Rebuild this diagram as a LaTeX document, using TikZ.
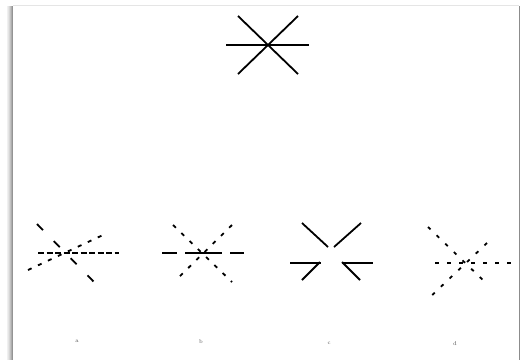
\documentclass[tikz,border=0pt]{standalone}
\begin{document}
\begin{tikzpicture}[x=1pt,y=-1pt,
  stroke/.style={line width=1.8pt,black},
  lbl/.style={font=\fontsize{5.5}{6}\selectfont,text=black!70,inner sep=0pt}]
\useasboundingbox (0,0) rectangle (525,360);
\fill[white] (0,0) rectangle (525,360);
% page shadow
\foreach \x/\c in {7/6,8/10,9/16,10/24,11/32,12/42}{\draw[black!\c,line width=1pt] (\x,6) -- (\x,360);}
\draw[black!10,line width=1pt] (13,5) -- (519,5);
\draw[black!45,line width=1pt] (519.5,6) -- (519.5,360);
% top star
\draw[stroke] (226,45) -- (309,45);
\draw[stroke] (238,16) -- (298,74);
\draw[stroke] (298,16) -- (238,74);
% a
\draw[stroke,dash pattern=on 6pt off 2.5pt] (38,253) -- (119,253);
\draw[stroke,dash pattern=on 8.5pt off 15.5pt] (37,224) -- (94,282);
\draw[stroke,dash pattern=on 4pt off 7pt] (28,270) -- (103,235);
% b
\draw[stroke] (162,253) -- (177,253);
\draw[stroke] (185,253) -- (222,253);
\draw[stroke] (230,253) -- (244,253);
\draw[stroke,dash pattern=on 4pt off 7.5pt] (173,225) -- (232,282);
\draw[stroke,dash pattern=on 4pt off 7.5pt] (232,225) -- (175,281);
% c
\draw[stroke] (302,223) -- (328,247);
\draw[stroke] (361,223) -- (334,247);
\draw[stroke] (290,263) -- (321,263);
\draw[stroke] (302,280) -- (320,262);
\draw[stroke] (342,263) -- (373,263);
\draw[stroke] (342,262) -- (360,280);
% d
\draw[stroke,dash pattern=on 3.5pt off 8.5pt] (435,263) -- (518,263);
\draw[stroke,dash pattern=on 3.5pt off 8.5pt] (428,227) -- (487,284);
\draw[stroke,dash pattern=on 3.5pt off 8.5pt] (487,243) -- (428,299);
% labels
\node[lbl] (la) at (77,341) {a};
\node[lbl] (lb) at (201,342) {b};
\node[lbl] (lc) at (329,343) {c};
\node[lbl] (ld) at (455,344) {d};
\end{tikzpicture}
\end{document}
